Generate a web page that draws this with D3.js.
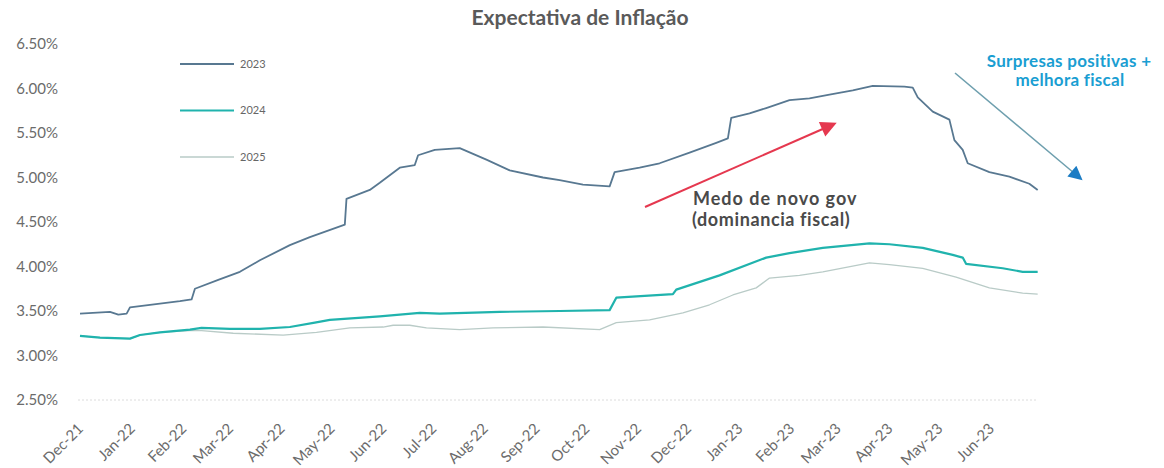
<!DOCTYPE html>
<html>
<head>
<meta charset="utf-8">
<script src="https://cdn.jsdelivr.net/npm/d3@7"></script>
<style>
  body { margin: 0; background: #fff; }
  svg { font-family: Lato, "Open Sans", sans-serif; }
</style>
</head>
<body>
<svg id="chart" width="1164" height="468"></svg>
<script>
// Expectativa de inflação (Focus) por ano-calendário
const dates2023 = ["2021-12-01","2021-12-19","2021-12-24","2021-12-29","2021-12-31","2022-01-12","2022-01-30","2022-02-06","2022-02-08","2022-02-22","2022-03-07","2022-03-19","2022-04-06","2022-04-18","2022-05-09","2022-05-10","2022-05-24","2022-05-30","2022-06-11","2022-06-20","2022-06-22","2022-07-02","2022-07-17","2022-08-02","2022-08-16","2022-09-05","2022-09-15","2022-09-29","2022-10-15","2022-10-18","2022-11-02","2022-11-14","2022-12-02","2022-12-18","2022-12-25","2022-12-27","2023-01-07","2023-01-17","2023-01-31","2023-02-12","2023-02-24","2023-03-10","2023-03-22","2023-04-10","2023-04-15","2023-04-18","2023-04-27","2023-05-07","2023-05-10","2023-05-15","2023-05-18","2023-05-31","2023-06-12","2023-06-24","2023-06-29"];
const values2023 = [3.47,3.49,3.46,3.47,3.54,3.57,3.61,3.63,3.75,3.85,3.94,4.07,4.24,4.33,4.47,4.76,4.86,4.94,5.11,5.14,5.25,5.31,5.33,5.20,5.08,5.00,4.97,4.92,4.90,5.06,5.11,5.16,5.28,5.39,5.44,5.67,5.72,5.78,5.87,5.89,5.93,5.98,6.03,6.02,6.01,5.90,5.74,5.65,5.42,5.31,5.16,5.06,5.01,4.93,4.86];

const dates2024 = ["2021-12-01","2021-12-13","2021-12-31","2022-01-06","2022-01-18","2022-02-05","2022-02-12","2022-03-01","2022-03-19","2022-04-06","2022-04-21","2022-04-30","2022-05-30","2022-06-23","2022-07-05","2022-08-10","2022-09-15","2022-10-15","2022-10-19","2022-11-22","2022-11-24","2022-12-20","2023-01-17","2023-01-31","2023-02-20","2023-03-20","2023-04-01","2023-04-21","2023-05-09","2023-05-15","2023-05-17","2023-06-08","2023-06-20","2023-06-29"];
const values2024 = [3.22,3.20,3.19,3.23,3.26,3.29,3.31,3.30,3.30,3.32,3.37,3.40,3.44,3.48,3.47,3.49,3.50,3.51,3.65,3.69,3.74,3.90,4.10,4.15,4.21,4.26,4.25,4.21,4.13,4.10,4.03,3.98,3.94,3.94];

const dates2025 = ["2021-12-01","2021-12-13","2021-12-31","2022-01-06","2022-01-18","2022-02-05","2022-02-12","2022-03-03","2022-04-02","2022-04-22","2022-05-12","2022-06-01","2022-06-07","2022-06-17","2022-06-27","2022-07-17","2022-08-06","2022-09-05","2022-10-09","2022-10-19","2022-11-08","2022-11-28","2022-12-14","2022-12-28","2023-01-11","2023-01-19","2023-02-06","2023-02-20","2023-03-20","2023-04-01","2023-04-21","2023-05-11","2023-05-31","2023-06-20","2023-06-29"];
const values2025 = [3.22,3.20,3.19,3.23,3.26,3.28,3.28,3.25,3.23,3.26,3.31,3.32,3.34,3.34,3.31,3.29,3.31,3.32,3.29,3.37,3.40,3.48,3.57,3.68,3.76,3.87,3.90,3.94,4.04,4.02,3.98,3.88,3.76,3.70,3.69];

const seriesNames = ["2023", "2024", "2025"];
const seriesColors = ["#587891", "#20b3ad", "#b9cbc7"];
const seriesWidths = [1.8, 2.2, 1.3];
const yTicks = [2.5, 3.0, 3.5, 4.0, 4.5, 5.0, 5.5, 6.0, 6.5];
const monthTicks = ["2021-12-01","2022-01-01","2022-02-01","2022-03-01","2022-04-01","2022-05-01","2022-06-01","2022-07-01","2022-08-01","2022-09-01","2022-10-01","2022-11-01","2022-12-01","2023-01-01","2023-02-01","2023-03-01","2023-04-01","2023-05-01","2023-06-01"];

const parse = d3.timeParse("%Y-%m-%d");
const svg = d3.select("#chart");

const x = d3.scaleTime()
    .domain([parse("2021-12-01"), parse("2023-07-01")])
    .range([80, 1041]);
const y = d3.scaleLinear()
    .domain([2.5, 6.5])
    .range([400, 44]);

// title
svg.append("text")
    .attr("x", 580).attr("y", 25)
    .attr("text-anchor", "middle")
    .attr("font-size", 21).attr("font-weight", 700)
    .attr("fill", "#5a5a5a")
    .text("Expectativa de Inflação");

// y axis (labels only)
const yAxis = svg.append("g")
    .attr("transform", "translate(58,0)")
    .call(d3.axisLeft(y).tickValues(yTicks).tickSize(0).tickPadding(0)
        .tickFormat(d => d3.format(".2f")(d) + "%"));
yAxis.select(".domain").remove();
yAxis.selectAll("text")
    .attr("font-size", 15).attr("fill", "#6b6b6b")
    .attr("font-family", "Lato, sans-serif");

// baseline
svg.append("line")
    .attr("x1", 78).attr("x2", 1038)
    .attr("y1", y(2.5)).attr("y2", y(2.5))
    .attr("stroke", "#dcdcdc").attr("stroke-width", 1)
    .attr("stroke-dasharray", "2,2");

// x axis labels
const xAxis = svg.append("g")
    .attr("transform", `translate(0,${y(2.5) + 23})`)
    .call(d3.axisBottom(x).tickValues(monthTicks.map(parse)).tickSize(0).tickPadding(0)
        .tickFormat(d3.timeFormat("%b-%y")));
xAxis.select(".domain").remove();
xAxis.selectAll("text")
    .attr("font-size", 15).attr("fill", "#6b6b6b")
    .attr("font-family", "Lato, sans-serif")
    .attr("text-anchor", "end")
    .attr("dy", "0.35em")
    .attr("transform", "translate(0,3) rotate(-45)");

// lines
const allDates = [dates2023, dates2024, dates2025];
const allValues = [values2023, values2024, values2025];
const line = d3.line()
    .x(d => x(d.date))
    .y(d => y(d.value));

[2, 1, 0].forEach(i => {
    const pts = allDates[i].map((d, j) => ({ date: parse(d), value: allValues[i][j] }));
    svg.append("path")
        .datum(pts)
        .attr("d", line)
        .attr("fill", "none")
        .attr("stroke", seriesColors[i])
        .attr("stroke-width", seriesWidths[i])
        .attr("stroke-linejoin", "round");
});

// legend
const legend = svg.append("g");
seriesNames.forEach((name, i) => {
    const ly = 64 + i * 46.5;
    legend.append("line")
        .attr("x1", 180).attr("x2", 234)
        .attr("y1", ly).attr("y2", ly)
        .attr("stroke", seriesColors[i])
        .attr("stroke-width", seriesWidths[i]);
    legend.append("text")
        .attr("x", 240).attr("y", ly)
        .attr("dy", "0.35em")
        .attr("font-size", 11).attr("fill", "#666")
        .text(name);
});

// annotations
const defs = svg.append("defs");
defs.append("marker")
    .attr("id", "headRed")
    .attr("viewBox", "0 0 10 10").attr("refX", 2).attr("refY", 5)
    .attr("markerWidth", 20).attr("markerHeight", 16)
    .attr("markerUnits", "userSpaceOnUse")
    .attr("orient", "auto")
    .append("path").attr("d", "M0,0 L10,5 L0,10 z").attr("fill", "#e5384f");
defs.append("marker")
    .attr("id", "headBlue")
    .attr("viewBox", "0 0 10 10").attr("refX", 2).attr("refY", 5)
    .attr("markerWidth", 16).attr("markerHeight", 14)
    .attr("markerUnits", "userSpaceOnUse")
    .attr("orient", "auto")
    .append("path").attr("d", "M0,0 L10,5 L0,10 z").attr("fill", "#1b7cc4");

svg.append("line")
    .attr("x1", 645).attr("y1", 207).attr("x2", 825).attr("y2", 128)
    .attr("stroke", "#e5384f").attr("stroke-width", 2)
    .attr("marker-end", "url(#headRed)");

svg.append("line")
    .attr("x1", 955).attr("y1", 73).attr("x2", 1074).attr("y2", 173)
    .attr("stroke", "#6e9fae").attr("stroke-width", 1.6)
    .attr("marker-end", "url(#headBlue)");

svg.append("text")
    .attr("x", 693).attr("y", 205)
    .attr("font-size", 18).attr("font-weight", 700).attr("fill", "#4a4a4a")
    .attr("letter-spacing", 1)
    .text("Medo de novo gov");
svg.append("text")
    .attr("x", 692).attr("y", 226)
    .attr("font-size", 18).attr("font-weight", 700).attr("fill", "#4a4a4a")
    .attr("letter-spacing", 0.6)
    .text("(dominancia fiscal)");

svg.append("text")
    .attr("x", 1069).attr("y", 67)
    .attr("text-anchor", "middle")
    .attr("font-size", 17).attr("font-weight", 700).attr("fill", "#1a9ed2")
    .attr("letter-spacing", 0.3)
    .text("Surpresas positivas +");
svg.append("text")
    .attr("x", 1070).attr("y", 86)
    .attr("text-anchor", "middle")
    .attr("font-size", 17).attr("font-weight", 700).attr("fill", "#1a9ed2")
    .attr("letter-spacing", 0.3)
    .text("melhora fiscal");
</script>
</body>
</html>
